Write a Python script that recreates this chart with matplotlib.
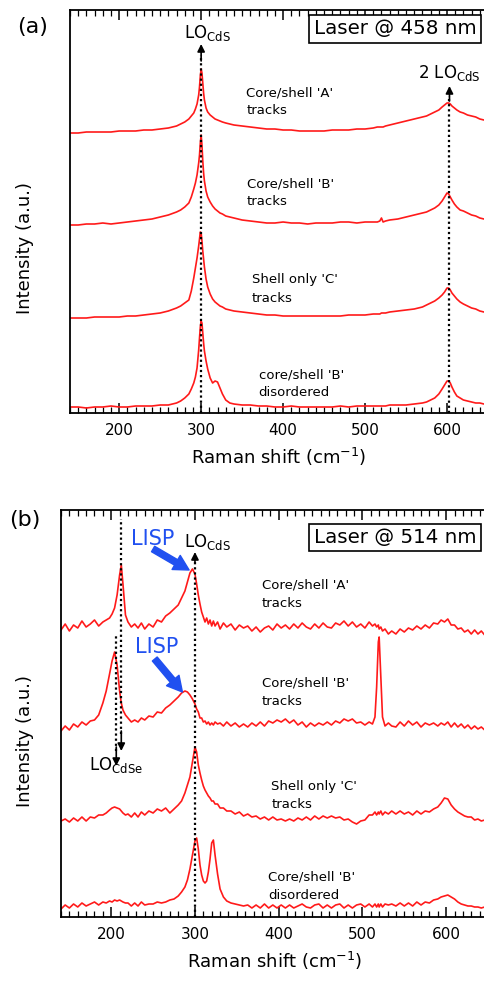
import matplotlib
matplotlib.use("Agg")
import matplotlib.pyplot as plt
from matplotlib.ticker import MultipleLocator

plt.rcParams['font.family'] = ['DejaVu Sans']
plt.rcParams['mathtext.default'] = 'regular'

# ---- panel (a): laser 458 nm ----
ram_a = [140, 150, 160, 170, 180, 190, 200, 210, 220, 230,
         240, 250, 260, 270, 275, 280, 285, 288, 291, 293,
         295, 297, 298, 299, 300, 301, 302, 303, 304, 306,
         308, 311, 314, 317, 320, 323, 326, 330, 335, 340,
         350, 360, 370, 380, 390, 400, 410, 420, 430, 440,
         450, 460, 470, 480, 490, 500, 510, 515, 518, 520,
         522, 525, 530, 540, 550, 560, 570, 575, 580, 585,
         590, 594, 597, 600, 602, 604, 606, 609, 612, 616,
         620, 625, 630, 635, 640, 645, 650]

a_core_A = [280, 280, 281, 281, 281, 281, 282, 282, 282, 283,
            283, 284, 285, 287, 289, 291, 294, 297, 300, 304,
            309, 318, 326, 337, 344, 340, 330, 320, 313, 305,
            301, 298, 296, 294, 293, 292, 291, 290, 289, 288,
            287, 286, 285, 284, 284, 283, 283, 282, 282, 282,
            282, 283, 283, 283, 284, 284, 285, 286, 286, 286,
            286, 287, 288, 290, 292, 294, 296, 297, 299, 301,
            303, 306, 308, 310, 310, 309, 307, 305, 303, 301,
            300, 298, 297, 296, 294, 293, 292]

a_core_B = [188, 188, 189, 189, 190, 189, 190, 191, 192, 193,
            194, 196, 198, 201, 203, 206, 210, 216, 224, 230,
            238, 250, 258, 270, 278, 268, 252, 240, 232, 222,
            216, 211, 207, 204, 202, 200, 199, 197, 196, 195,
            193, 192, 191, 190, 190, 191, 190, 190, 189, 190,
            190, 190, 191, 191, 190, 191, 191, 191, 192, 195,
            191, 192, 193, 194, 196, 198, 200, 201, 203, 205,
            208, 212, 216, 220, 219, 216, 213, 209, 206, 203,
            202, 200, 198, 197, 195, 194, 193]

a_shell_C = [95, 95, 95, 96, 96, 96, 96, 97, 97, 98,
             99, 100, 102, 105, 107, 110, 113, 122, 135, 145,
             155, 167, 174, 181, 180, 172, 162, 154, 146, 134,
             126, 119, 114, 111, 109, 107, 106, 104, 103, 102,
             101, 100, 99, 98, 98, 97, 97, 97, 97, 97,
             97, 97, 97, 98, 98, 98, 99, 99, 99, 100,
             100, 100, 101, 102, 103, 104, 106, 108, 110, 112,
             115, 118, 121, 125, 125, 123, 120, 117, 114, 111,
             109, 107, 105, 104, 102, 101, 100]

a_disord_B = [6, 6, 5, 6, 6, 7, 6, 6, 7, 7,
              7, 8, 8, 10, 12, 15, 19, 24, 30, 36,
              45, 63, 75, 86, 92, 90, 80, 70, 62, 52,
              44, 35, 30, 32, 31, 25, 19, 13, 10, 9,
              8, 8, 7, 7, 6, 6, 7, 6, 6, 6,
              6, 6, 7, 6, 7, 7, 7, 7, 7, 7,
              7, 7, 8, 8, 8, 9, 10, 11, 13, 15,
              19, 24, 28, 32, 32, 30, 26, 21, 17, 15,
              13, 12, 11, 10, 10, 9, 9]

# ---- panel (b): laser 514 nm ----
ram_b = [140, 145, 150, 155, 160, 165, 170, 175, 180, 185,
         190, 194, 198, 201, 204, 207, 210, 212, 214, 217,
         220, 224, 228, 232, 236, 240, 245, 250, 255, 260,
         265, 270, 275, 280, 284, 288, 291, 294, 297, 300,
         302, 304, 306, 308, 310, 312, 314, 316, 318, 320,
         322, 324, 327, 330, 334, 338, 343, 348, 353, 358,
         363, 368, 373, 378, 383, 388, 393, 398, 403, 408,
         413, 418, 423, 428, 433, 438, 443, 448, 453, 458,
         463, 468, 473, 478, 483, 488, 493, 498, 503, 508,
         512, 515, 517, 519, 520, 522, 524, 527, 531, 535,
         540, 545, 550, 555, 560, 565, 570, 575, 580, 585,
         590, 594, 598, 602, 606, 610, 614, 618, 622, 626,
         630, 634, 638, 642, 646, 650]

b_core_A = [287, 293, 286, 292, 289, 296, 290, 293, 297, 291,
            295, 297, 299, 303, 309, 322, 342, 352, 333, 302,
            295, 290, 293, 289, 294, 288, 293, 290, 297, 295,
            301, 304, 308, 312, 319, 326, 335, 344, 348, 343,
            333, 322, 313, 305, 300, 295, 299, 293, 297, 291,
            296, 291, 295, 288, 294, 290, 293, 287, 292, 289,
            291, 286, 290, 285, 289, 291, 287, 293, 289, 292,
            288, 293, 289, 294, 290, 288, 293, 289, 294, 290,
            289, 294, 292, 296, 291, 295, 290, 293, 289, 295,
            291, 293, 290, 292, 288, 290, 286, 288, 283, 286,
            283, 288, 285, 289, 287, 291, 288, 292, 289, 294,
            293, 297, 295, 298, 292, 292, 288, 289, 285, 287,
            283, 287, 283, 286, 282, 285]

b_core_B = [186, 191, 187, 193, 190, 195, 192, 196, 197, 202,
            214, 226, 243, 256, 265, 252, 226, 214, 207, 202,
            199, 195, 197, 195, 199, 197, 201, 200, 205, 204,
            209, 212, 216, 220, 224, 226, 225, 222, 218, 213,
            208, 205, 199, 199, 195, 196, 193, 195, 192, 194,
            192, 195, 193, 194, 191, 195, 191, 194, 190, 193,
            190, 194, 191, 195, 191, 196, 194, 197, 195, 198,
            194, 197, 192, 195, 190, 194, 191, 194, 192, 195,
            192, 196, 194, 198, 196, 198, 194, 195, 192, 195,
            193, 200, 230, 275, 280, 240, 200, 191, 194, 191,
            190, 195, 191, 196, 192, 195, 190, 194, 192, 194,
            191, 194, 192, 195, 190, 194, 190, 193, 189, 192,
            188, 191, 188, 190, 187, 190]

b_shell_C = [96, 98, 95, 99, 96, 100, 96, 100, 99, 102,
             102, 104, 107, 109, 110, 109, 108, 106, 104, 102,
             103, 100, 104, 100, 105, 102, 106, 104, 108, 106,
             109, 104, 108, 112, 116, 124, 132, 140, 155, 170,
             165, 152, 144, 137, 131, 127, 124, 121, 119, 116,
             116, 113, 113, 109, 109, 106, 106, 103, 105, 101,
             103, 100, 101, 98, 100, 97, 100, 97, 98, 96,
             98, 96, 99, 97, 100, 97, 101, 98, 101, 99,
             101, 99, 100, 97, 98, 95, 93, 96, 97, 102,
             102, 105, 102, 105, 103, 106, 102, 105, 103, 106,
             103, 106, 103, 105, 102, 106, 103, 106, 105, 108,
             110, 114, 119, 118, 112, 108, 105, 103, 101, 100,
             100, 97, 98, 96, 97, 95]

b_disord_B = [8, 12, 9, 13, 10, 14, 11, 13, 15, 12,
              15, 14, 16, 15, 17, 16, 17, 16, 15, 14,
              14, 11, 14, 11, 15, 12, 13, 13, 15, 14,
              15, 17, 18, 21, 25, 30, 37, 48, 62, 76,
              79, 68, 52, 42, 36, 34, 36, 45, 58, 74,
              77, 62, 43, 28, 20, 16, 14, 13, 12, 11,
              12, 9, 12, 9, 13, 9, 12, 9, 12, 9,
              12, 9, 11, 13, 10, 9, 12, 13, 9, 12,
              9, 12, 13, 9, 12, 9, 12, 13, 10, 13,
              10, 13, 10, 13, 10, 13, 10, 13, 12, 13,
              11, 14, 11, 14, 11, 15, 12, 15, 14, 17,
              18, 20, 21, 22, 20, 18, 15, 13, 12, 11,
              11, 10, 10, 9, 10, 9]

labels_a = ["Core/shell 'A'\ntracks", "Core/shell 'B'\ntracks",
            "Shell only 'C'\ntracks", "core/shell 'B'\ndisordered"]
labels_b = ["Core/shell 'A'\ntracks", "Core/shell 'B'\ntracks",
            "Shell only 'C'\ntracks", "Core/shell 'B'\ndisordered"]

RED = '#ff1a1a'
BLUE = '#2050f0'
DOTS = (0, (1.0, 1.3))

fig = plt.figure(figsize=(4.84, 9.88), dpi=100)
ax_a = fig.add_axes([70 / 484, 1 - 413 / 988, 418 / 484, 403 / 988])
ax_b = fig.add_axes([61 / 484, 1 - 917 / 988, 427 / 484, 407 / 988])


def style_axis(ax, top, ylab_x, ylab_y):
    ax.set_xlim(140, 650)
    ax.set_ylim(0, top)
    ax.xaxis.set_major_locator(MultipleLocator(100))
    ax.xaxis.set_minor_locator(MultipleLocator(10))
    ax.tick_params(axis='x', which='both', direction='in', top=True,
                   labelsize=11, pad=7)
    ax.tick_params(axis='x', which='major', length=7, width=1.1)
    ax.tick_params(axis='x', which='minor', length=4, width=0.9)
    ax.set_yticks([])
    for s in ax.spines.values():
        s.set_linewidth(1.3)
    ax.set_xlabel(r'Raman shift (cm$^{-1}$)', fontsize=13, labelpad=6)
    ax.set_ylabel('Intensity (a.u.)', fontsize=13)
    ax.yaxis.set_label_coords(ylab_x, ylab_y)


def arrow(ax, x, y0, y1):
    ax.annotate('', xy=(x, y1), xytext=(x, y0),
                arrowprops=dict(arrowstyle='-|>', color='k', lw=1.2,
                                mutation_scale=11, shrinkA=0, shrinkB=0))


def laser_box(ax, txt, xf, yf):
    ax.text(xf, yf, txt, transform=ax.transAxes, fontsize=14.3,
            ha='center', va='center',
            bbox=dict(boxstyle='square,pad=0.22', fc='white', ec='k', lw=1.2))


# panel (a)
for y in (a_core_A, a_core_B, a_shell_C, a_disord_B):
    ax_a.plot(ram_a, y, color=RED, lw=1.2)
style_axis(ax_a, 403, (34 - 70) / 418, 0.41)
ax_a.plot([300, 300], [0, 358], color='k', lw=1.6, ls=DOTS)
ax_a.plot([603, 603], [0, 317], color='k', lw=1.6, ls=DOTS)
arrow(ax_a, 300, 352, 369)
arrow(ax_a, 603, 312, 327)
ax_a.text(279, 375, r'LO$_{CdS}$', fontsize=12, va='baseline')
ax_a.text(565, 335, r'2 LO$_{CdS}$', fontsize=12, va='baseline')
for (x, y), t in zip([(355, 311), (356, 220), (362, 124), (370, 29)], labels_a):
    ax_a.text(x, y, t, fontsize=9.5, va='center', ha='left', linespacing=1.5)
laser_box(ax_a, 'Laser @ 458 nm', (395 - 70) / 418, (413 - 29) / 403)

# panel (b)
for y in (b_core_A, b_core_B, b_shell_C, b_disord_B):
    ax_b.plot(ram_b, y, color=RED, lw=1.2)
style_axis(ax_b, 407, (34 - 61) / 427, 0.432)
ax_b.plot([300, 300], [0, 358], color='k', lw=1.6, ls=DOTS)
arrow(ax_b, 300, 354, 365)
ax_b.plot([212, 212], [183, 398], color='k', lw=1.6, ls=DOTS)
ax_b.plot([206, 206], [166, 282], color='k', lw=1.6, ls=DOTS)
arrow(ax_b, 212, 186, 166)
arrow(ax_b, 206, 170, 151)
ax_b.text(287, 370, r'LO$_{CdS}$', fontsize=12, va='baseline')
ax_b.text(174, 147, r'LO$_{CdSe}$', fontsize=12, va='baseline')
for (x, y), t in zip([(380, 323), (380, 225), (391, 122), (387, 31)], labels_b):
    ax_b.text(x, y, t, fontsize=9.5, va='center', ha='left', linespacing=1.5)
laser_box(ax_b, 'Laser @ 514 nm', (395 - 61) / 427, (917 - 537.5) / 407)

# LISP pointers
lisp_style = 'simple,head_width=1.3,head_length=1.2,tail_width=0.5'
ax_b.text(249, 378, 'LISP', color=BLUE, fontsize=15, ha='center', va='center')
ax_b.annotate('', xy=(293, 347), xytext=(250, 368),
              arrowprops=dict(arrowstyle=lisp_style, color=BLUE,
                              mutation_scale=9, shrinkA=0, shrinkB=0))
ax_b.text(254, 270, 'LISP', color=BLUE, fontsize=15, ha='center', va='center')
ax_b.annotate('', xy=(285, 225), xytext=(252, 258),
              arrowprops=dict(arrowstyle=lisp_style, color=BLUE,
                              mutation_scale=9, shrinkA=0, shrinkB=0))

fig.text(33 / 484, 1 - 27 / 988, '(a)', fontsize=16, ha='center', va='center')
fig.text(25 / 484, 1 - 520 / 988, '(b)', fontsize=16, ha='center', va='center')

fig.savefig('out.png', dpi=100)
